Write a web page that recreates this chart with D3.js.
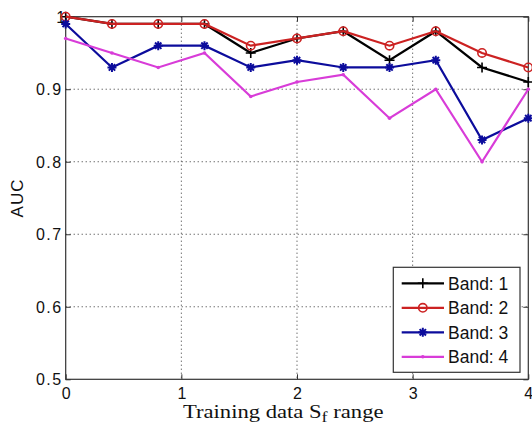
<!DOCTYPE html>
<html><head><meta charset="utf-8">
<script src="https://cdn.jsdelivr.net/npm/d3@7"></script>
<style>
html,body{margin:0;padding:0;background:#fff;overflow:hidden;}
svg{display:block;}
</style></head>
<body>
<svg id="chart" width="532" height="423"></svg>
<script>
const xValues = [0, 0.4, 0.8, 1.2, 1.6, 2.0, 2.4, 2.8, 3.2, 3.6, 4.0];
const band1 = [1.00, 0.99, 0.99, 0.99, 0.95, 0.97, 0.98, 0.94, 0.98, 0.93, 0.91];
const band2 = [1.00, 0.99, 0.99, 0.99, 0.96, 0.97, 0.98, 0.96, 0.98, 0.95, 0.93];
const band3 = [0.99, 0.93, 0.96, 0.96, 0.93, 0.94, 0.93, 0.93, 0.94, 0.83, 0.86];
const band4 = [0.97, 0.95, 0.93, 0.95, 0.89, 0.91, 0.92, 0.86, 0.90, 0.80, 0.90];
const seriesNames = ["Band: 1", "Band: 2", "Band: 3", "Band: 4"];
const xTicks = [0, 1, 2, 3, 4];
const yTicks = [0.5, 0.6, 0.7, 0.8, 0.9, 1.0];
const yTickLabels = ["0.5", "0.6", "0.7", "0.8", "0.9", "1"];

const colors = ["#000000", "#cc2222", "#0c0c9c", "#d83cd8"];
const markers = ["plus", "circle", "star", "dot"];
const series = [band1, band2, band3, band4];

const svg = d3.select("#chart");
const L = 65.7, R = 528.3, T = 16.7, B = 379.3;
const x = d3.scaleLinear().domain([0, 4]).range([L, R]);
const y = d3.scaleLinear().domain([0.5, 1]).range([B, T]);

// grid
const grid = svg.append("g").attr("stroke", "#333").attr("stroke-width", 1).attr("stroke-dasharray", "1,3");
xTicks.slice(1, -1).forEach(v => grid.append("line").attr("x1", x(v)).attr("x2", x(v)).attr("y1", T).attr("y2", B));
yTicks.slice(1, -1).forEach(v => grid.append("line").attr("x1", L).attr("x2", R).attr("y1", y(v)).attr("y2", y(v)));

// axes (inward ticks)
const axFont = "'Liberation Sans', Arial, sans-serif";
const axBottom = svg.append("g").attr("transform", `translate(0,${B})`)
  .call(d3.axisBottom(x).tickValues(xTicks).tickSizeInner(-5).tickSizeOuter(0).tickPadding(8).tickFormat(d3.format("d")));
const axTop = svg.append("g").attr("transform", `translate(0,${T})`)
  .call(d3.axisTop(x).tickValues(xTicks).tickSizeInner(-5).tickSizeOuter(0).tickFormat(""));
const axLeft = svg.append("g").attr("transform", `translate(${L},0)`)
  .call(d3.axisLeft(y).tickValues(yTicks).tickSizeInner(-5).tickSizeOuter(0).tickPadding(3).tickFormat((d, i) => yTickLabels[i]));
const axRight = svg.append("g").attr("transform", `translate(${R},0)`)
  .call(d3.axisRight(y).tickValues(yTicks).tickSizeInner(-5).tickSizeOuter(0).tickFormat(""));
[axBottom, axTop, axLeft, axRight].forEach(g => {
  g.attr("font-family", axFont);
  g.select(".domain").remove();
  g.selectAll("line").attr("stroke", "#333");
  g.selectAll("text").attr("font-family", axFont).attr("font-size", 16).attr("fill", "#111");
});
axBottom.selectAll("text").attr("dy", "0.71em");
axLeft.selectAll("text").attr("letter-spacing", 1.5).attr("dy", "0.35em");
axLeft.selectAll(".tick").filter(d => d === 1).select("text").attr("dx", 4);

// frame
svg.append("rect").attr("x", L).attr("y", T).attr("width", R - L).attr("height", B - T)
  .attr("fill", "none").attr("stroke", "#333").attr("stroke-width", 1.2);

// lines
const line = d3.line().x((d, i) => x(xValues[i])).y(d => y(d));
function drawMarker(g, type, cx, cy, color) {
  if (type === "plus") {
    g.append("path").attr("d", `M${cx-5},${cy}H${cx+5}M${cx},${cy-5}V${cy+5}`).attr("stroke", color).attr("stroke-width", 1.6).attr("fill", "none");
  } else if (type === "circle") {
    g.append("circle").attr("cx", cx).attr("cy", cy).attr("r", 4.2).attr("fill", "none").attr("stroke", color).attr("stroke-width", 1.6);
  } else if (type === "star") {
    let d = "";
    for (let k = 0; k < 4; k++) {
      const a = k * Math.PI / 4;
      const dx = 4.5 * Math.cos(a), dy = 4.5 * Math.sin(a);
      d += `M${cx-dx},${cy-dy}L${cx+dx},${cy+dy}`;
    }
    g.append("path").attr("d", d).attr("stroke", color).attr("stroke-width", 2).attr("fill", "none");
  } else {
    g.append("circle").attr("cx", cx).attr("cy", cy).attr("r", 1.8).attr("fill", color);
  }
}
const plot = svg.append("g");
series.forEach((s, si) => {
  const g = plot.append("g");
  g.append("path").datum(s).attr("d", line).attr("fill", "none").attr("stroke", colors[si]).attr("stroke-width", 2.2).attr("stroke-linejoin", "miter");
  s.forEach((v, i) => drawMarker(g, markers[si], x(xValues[i]), y(v), colors[si]));
});

// legend
const lg = svg.append("g");
lg.append("rect").attr("x", 393.3).attr("y", 267.3).attr("width", 126.7).attr("height", 105)
  .attr("fill", "#fff").attr("stroke", "#333").attr("stroke-width", 1.2);
const rowY = [283.3, 307.8, 332.3, 356.8];
seriesNames.forEach((name, i) => {
  const cy = rowY[i];
  lg.append("line").attr("x1", 401.7).attr("x2", 444).attr("y1", cy).attr("y2", cy).attr("stroke", colors[i]).attr("stroke-width", 2.2);
  drawMarker(lg, markers[i], 422.8, cy, colors[i]);
  lg.append("text").attr("x", 448).attr("y", cy).attr("dy", "0.36em").attr("font-family", axFont).attr("font-size", 17.5).attr("fill", "#111").text(name);
});

// y label
svg.append("text").attr("transform", `translate(23,198) rotate(-90)`).attr("text-anchor", "middle")
  .attr("font-family", axFont).attr("font-size", 17).attr("fill", "#111").attr("letter-spacing", 1).text("AUC");

// x label
const xl = svg.append("text").attr("transform", "translate(183,418) scale(1.16,1)")
  .attr("font-family", "'Liberation Serif', 'Times New Roman', serif").attr("font-size", 19.5).attr("fill", "#111");
xl.append("tspan").text("Training data S");
xl.append("tspan").attr("font-size", 15.5).attr("dy", 3.5).text("f");
xl.append("tspan").attr("dy", -3.5).text(" range");
</script>
</body></html>
